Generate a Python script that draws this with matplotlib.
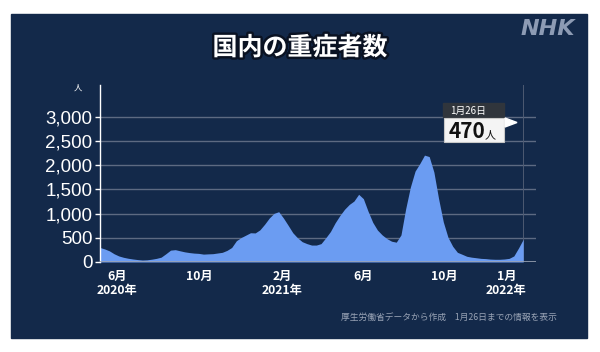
import matplotlib
matplotlib.use('Agg')
import matplotlib.pyplot as plt
import matplotlib.patheffects as pe
from matplotlib.patches import Rectangle, Polygon
import pandas as pd

plt.rcParams['font.family'] = ['Noto Sans CJK JP', 'DejaVu Sans']

# weekly readings of severe cases, ending on 2022-01-26
dates = pd.date_range(end='2022-01-26', periods=91, freq='7D')
values = [300, 270, 230, 170, 125, 97, 77, 62, 50, 41,
          45, 58, 75, 100, 170, 245, 255, 232, 210, 195,
          184, 178, 163, 168, 172, 186, 200, 240, 300, 440,
          505, 555, 605, 601, 665, 780, 910, 1005, 1040, 910,
          760, 605, 500, 420, 380, 350, 350, 380, 500, 630,
          810, 960, 1090, 1190, 1260, 1400, 1310, 1050, 820, 660,
          560, 484, 430, 410, 560, 1100, 1550, 1880, 2035, 2210,
          2180, 1860, 1310, 830, 510, 325, 200, 160, 118, 100,
          88, 75, 70, 60, 56, 56, 62, 75, 125, 290,
          470]

yticks = [0, 500, 1000, 1500, 2000, 2500, 3000]
xtick_dates = ['2020-06-01', '2020-10-01', '2021-02-01', '2021-06-01', '2021-10-01', '2022-01-01']
xtick_labels = ['6月\n2020年', '10月', '2月\n2021年', '6月', '10月', '1月\n2022年']

title = '国内の重症者数'
note = '厚生労働省データから作成　1月26日までの情報を表示'

W, H = 600, 352
bg = '#13294a'
fill_c = '#6b9cf2'


def fx(px):
    return px / W


def fy(py):
    return 1 - py / H


fig = plt.figure(figsize=(6, 3.52), dpi=100, facecolor='white')
fig.patches.append(Rectangle((fx(11), fy(338)), fx(576), (338 - 14) / H,
                             transform=fig.transFigure, color=bg, zorder=-1))

ax = fig.add_axes([fx(100), fy(262), fx(436), (262 - 85) / H])
ax.set_zorder(1)
ax.set_facecolor('none')
ax.fill_between(dates, 0, values, color=fill_c, lw=0, zorder=2)

start = dates[0]
ax.set_xlim(start, start + pd.Timedelta(days=649))
ax.set_ylim(0, 3660)

for v in yticks[1:]:
    ax.axhline(v, color='#5d6a82', lw=1, zorder=1)
ax.axhline(0, color='#9aa3b3', lw=1.2, zorder=3)
ax.axvline(dates[-1], color='#4d5a72', lw=0.7, zorder=1)

for s in ['top', 'right', 'bottom']:
    ax.spines[s].set_visible(False)
ax.spines['left'].set_color('white')
ax.spines['left'].set_linewidth(1)

ax.set_yticks(yticks)
ax.set_yticklabels([f'{v:,}' for v in yticks], family='Liberation Sans')
ax.tick_params(axis='y', colors='white', length=3.5, width=1, pad=2, labelsize=13.5)
ax.set_xticks(pd.to_datetime(xtick_dates))
ax.set_xticklabels(xtick_labels, linespacing=1.05, fontweight='bold')
ax.tick_params(axis='x', colors='white', length=0, pad=6, labelsize=8.8)
for lab in ax.get_xticklabels():
    lab.set_va('top')

# unit label
fig.text(fx(78), fy(88), '人', color='white', fontsize=6, ha='center', va='center')

# title and logo
fig.text(fx(300), fy(48), title, color='white', fontsize=18, fontweight='bold',
         ha='center', va='center',
         path_effects=[pe.withStroke(linewidth=3.5, foreground='#0a1222')])
fig.text(fx(548), fy(29), 'NHK', color='#8d9bb4', fontsize=16, fontweight='bold',
         fontstyle='italic', family='DejaVu Sans', ha='center', va='center')

# latest value callout
fig.patches.append(Rectangle((fx(443), fy(117)), fx(61), 14 / H,
                             transform=fig.transFigure, color='#30353c', zorder=5))
fig.patches.append(Rectangle((fx(444), fy(142)), fx(60), 24 / H,
                             transform=fig.transFigure, facecolor='#f4f4f4',
                             edgecolor='#c8c8c8', lw=0.8, zorder=5))
fig.patches.append(Polygon([(fx(505), fy(118)), (fx(505), fy(127)), (fx(517), fy(122.5))],
                           closed=True, transform=fig.transFigure, color='white', zorder=5))
fig.text(fx(450), fy(110.5), '1月26日', color='white', fontsize=7, ha='left', va='center', zorder=6)
fig.text(fx(449), fy(131.5), f'{values[-1]}', color='#111111', fontsize=15, fontweight='bold',
         ha='left', va='center', zorder=6)
fig.text(fx(485), fy(135), '人', color='#111111', fontsize=8, ha='left', va='center', zorder=6)

# footnote
fig.text(fx(557), fy(317), note, color='#9aa4b6', fontsize=6.3, ha='right', va='center')

fig.savefig('out.png', dpi=100, facecolor='white')
